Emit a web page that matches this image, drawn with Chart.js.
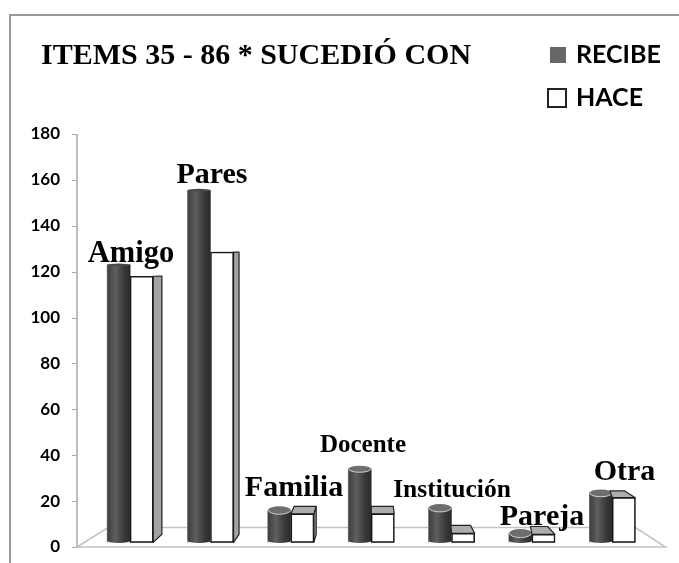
<!DOCTYPE html>
<html>
<head>
<meta charset="utf-8">
<style>
html,body{margin:0;padding:0;background:#fff;}
#wrap{position:absolute;left:0;top:0;width:679px;height:563px;overflow:hidden;}
#frame{position:absolute;left:9px;top:14px;width:680px;height:560px;border-top:2px solid #999;border-left:2px solid #999;}
canvas{position:absolute;left:0;top:0;}
</style>
<script src="https://cdn.jsdelivr.net/npm/chart.js@4"></script>
</head>
<body>
<div id="wrap"><div id="frame"></div><canvas id="c" width="679" height="563"></canvas></div>
<script>
const categories = ["Amigo","Pares","Familia","Docente","Institución","Pareja","Otra"];
const recibe = [123,155.5,16,34,17,6,23.5];
const hace = [118,128.5,14.5,14.5,6,5.5,21.5];
const baseValue = 2;
const titleText = "ITEMS 35 - 86 * SUCEDIÓ CON";
const seriesNames = ["RECIBE","HACE"];
const yMax = 180, yStep = 20;

// label placement (style only, not data)
const labelStyle = [
 {cx:131,cy:254,size:30.5},{cx:212,cy:175,size:30},{cx:294,cy:488,size:30},
 {cx:363,cy:446,size:25},{cx:452,cy:490,size:25.5},{cx:542,cy:517,size:30},{cx:624.5,cy:472,size:30}
];
const K_X=0.04, K_Y=0.03;

function drawBoxes(chart){
  const {ctx,scales:{x,y}}=chart;
  const meta=chart.getDatasetMeta(1);
  const vpx=x.getPixelForValue(3), eye=y.getPixelForValue(120);
  ctx.save();ctx.strokeStyle='#222';ctx.lineWidth=1.2;ctx.lineJoin='round';
  meta.data.forEach(b=>{
   const x1=b.x-b.width/2,x2=b.x+b.width/2,t=b.y,bt=b.base;
   const dT=Math.max(0,(t-eye)*K_Y),dB=(bt-eye)*K_Y;
   const dR=K_X*(vpx-x2);let dL=K_X*(vpx-x1);if(x1>vpx)dL*=.25;
   if(dR>0){ctx.fillStyle='#a2a2a2';ctx.beginPath();ctx.moveTo(x2,t);ctx.lineTo(x2+dR,t-dT);ctx.lineTo(x2+dR,bt-dB);ctx.lineTo(x2,bt);ctx.closePath();ctx.fill();ctx.stroke();}
   if(dT>0.5){ctx.fillStyle='#adadad';ctx.beginPath();ctx.moveTo(x1,t);ctx.lineTo(x1+dL,t-dT);ctx.lineTo(x2+dR,t-dT);ctx.lineTo(x2,t);ctx.closePath();ctx.fill();ctx.stroke();}
   b.draw(ctx);
  });
  ctx.restore();
}

const scene = {
 id:'scene',
 afterLayout(chart){ if(chart.titleBlock) chart.titleBlock.left=41; },
 beforeDatasetsDraw(chart){
  const {ctx,chartArea:a,scales:{y}}=chart;
  const ax=a.left-13, rx=a.right+13, y0=y.getPixelForValue(0), yb=y.getPixelForValue(8.5);
  ctx.save();
  ctx.strokeStyle='#c4c4c4';ctx.lineWidth=1.6;ctx.beginPath();
  ctx.moveTo(ax+31,yb);ctx.lineTo(rx-30,yb);ctx.lineTo(rx,y0);ctx.lineTo(ax,y0);ctx.closePath();ctx.stroke();
  ctx.strokeStyle='#a8a8a8';ctx.lineWidth=1.5;ctx.beginPath();
  ctx.moveTo(ax,y.getPixelForValue(yMax));ctx.lineTo(ax,y0);ctx.stroke();
  ctx.lineWidth=1;
  for(let v=0;v<=yMax;v+=yStep){const p=Math.round(y.getPixelForValue(v))+.5;ctx.beginPath();ctx.moveTo(ax-5,p);ctx.lineTo(ax,p);ctx.stroke();}
  ctx.restore();
 },
 afterDatasetDraw(chart,args){
  if(args.index!==0) return;
  const {ctx,scales:{y}}=chart;
  const eye=y.getPixelForValue(120);
  ctx.save();
  args.meta.data.forEach(b=>{
   const x1=b.x-b.width/2,x2=b.x+b.width/2,t=b.y,bt=b.base-1.5,cx=b.x,rx=b.width/2;
   const ry=Math.max(1.2,Math.abs(t-eye)*K_Y*.55);
   const g=ctx.createLinearGradient(x1,0,x2,0);
   g.addColorStop(0,'#3d3d3d');g.addColorStop(.35,'#5f5f5f');g.addColorStop(.75,'#383838');g.addColorStop(1,'#2a2a2a');
   ctx.fillStyle='#fff';ctx.fillRect(x1,t,b.width,b.base-t+.5);
   ctx.fillStyle=g;ctx.beginPath();ctx.moveTo(x1,t);ctx.lineTo(x1,bt);
   ctx.ellipse(cx,bt,rx,2,0,Math.PI,0,true);ctx.lineTo(x2,t);ctx.closePath();
   ctx.fill();
   ctx.beginPath();ctx.ellipse(cx,t,rx,ry,0,0,Math.PI*2);
   ctx.fillStyle=ry>2?'#6e6e6e':'#4a4a4a';ctx.fill();
   if(ry>2){ctx.strokeStyle='#cfcfcf';ctx.lineWidth=1;ctx.beginPath();ctx.ellipse(cx,t,rx-.5,ry,0,0,Math.PI);ctx.stroke();}
  });
  ctx.restore();
  drawBoxes(chart);
 },
 afterDatasetsDraw(chart){
  const {ctx}=chart;
  ctx.save();
  ctx.fillStyle='#000';ctx.textAlign='center';ctx.textBaseline='middle';
  categories.forEach((c,i)=>{const s=labelStyle[i];ctx.font=`bold ${s.size}px "Liberation Serif"`;ctx.fillText(c,s.cx,s.cy);});
  // legend
  ctx.textAlign='left';ctx.font='bold 25px Lato';
  ctx.fillStyle='#666';ctx.fillRect(550,47,16,16);
  ctx.fillStyle='#000';ctx.fillText(seriesNames[0],576,55);
  ctx.strokeStyle='#222';ctx.lineWidth=2;ctx.strokeRect(548,89,18,18);
  ctx.fillText(seriesNames[1],576,98);
  ctx.restore();
 }
};

new Chart(document.getElementById('c'),{
 type:'bar',
 data:{labels:categories,datasets:[
  {label:seriesNames[0],data:recibe,base:baseValue,backgroundColor:'#444'},
  {label:seriesNames[1],data:hace,base:baseValue,backgroundColor:'#fff',borderColor:'#1a1a1a',borderWidth:1.5,borderSkipped:false}
 ]},
 plugins:[scene],
 options:{
  responsive:false,animation:false,
  layout:{padding:{left:0,right:26.5,top:0,bottom:16}},
  datasets:{bar:{barThickness:23}},
  plugins:{
   legend:{display:false},tooltip:{enabled:false},
   title:{display:true,text:titleText,align:'start',color:'#000',
    font:{family:'"Liberation Serif"',size:30,weight:'bold'},padding:{top:38.5,bottom:59.5}}
  },
  scales:{
   x:{display:false},
   y:{min:0,max:yMax,
    afterFit(s){s.width=90;},
    ticks:{stepSize:yStep,color:'#000',padding:0,font:{family:'Lato',size:17,weight:'bold'}},
    grid:{display:false,tickLength:30},border:{display:false}}
  }
 }
});
</script>
</body>
</html>
